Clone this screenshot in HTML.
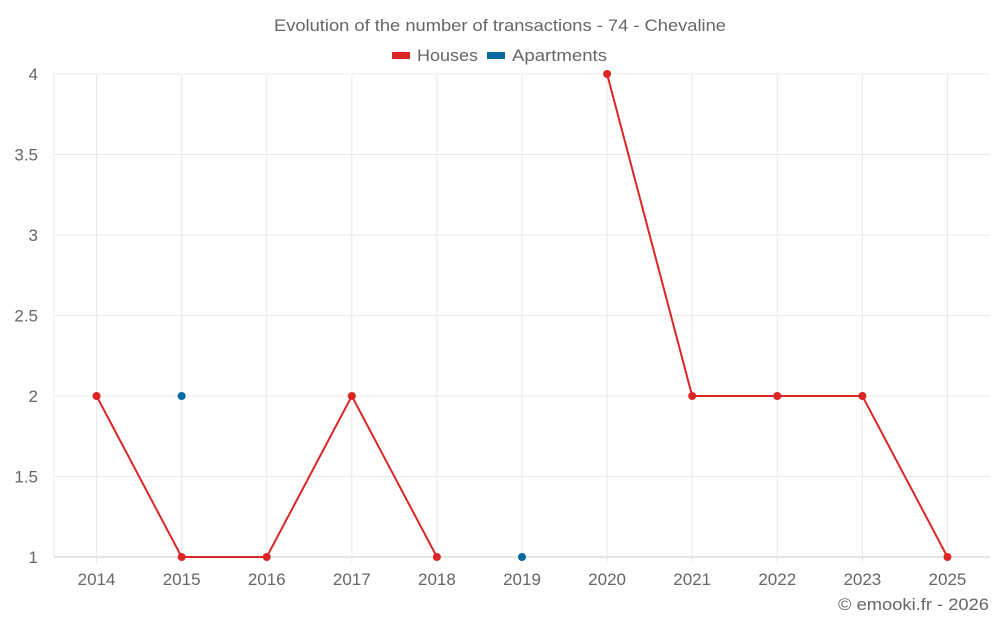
<!DOCTYPE html>
<html><head><meta charset="utf-8"><style>
body{margin:0;background:#fff;font-family:"Liberation Sans",sans-serif}
svg text{font-family:"Liberation Sans",sans-serif;fill:#666}
</style></head><body>
<svg id="c" width="1000" height="625">
<text x="274" y="31" font-size="17" textLength="452" lengthAdjust="spacingAndGlyphs">Evolution of the number of transactions - 74 - Chevaline</text>
<g>
<rect x="392" y="52" width="18" height="7" fill="#dc2626"/>
<text x="417" y="61" font-size="17" textLength="61" lengthAdjust="spacingAndGlyphs">Houses</text>
<rect x="487" y="52" width="18" height="7" fill="#0369a1"/>
<text x="512" y="61" font-size="17" textLength="95" lengthAdjust="spacingAndGlyphs">Apartments</text>
</g>
<g id="grid"></g><g id="marks"></g>
<text x="989" y="610" text-anchor="end" font-size="17" textLength="151" lengthAdjust="spacingAndGlyphs">© emooki.fr - 2026</text>
</svg>
<script>
const categories=["2014","2015","2016","2017","2018","2019","2020","2021","2022","2023","2025"];
const houses=[2,1,1,2,1,null,4,2,2,2,1];
const apartments=[null,2,null,null,null,1,null,null,null,null,null];
const yTicks=[1,1.5,2,2.5,3,3.5,4];
const NS="http://www.w3.org/2000/svg";
const L=54,R=990,T=74,B=557,yMin=1,yMax=4;
const bw=(R-L)/categories.length;
const x=i=>L+bw*(i+0.5);
const y=v=>B-(v-yMin)/(yMax-yMin)*(B-T);
function mk(tag,at,parent){const e=document.createElementNS(NS,tag);for(const k in at)e.setAttribute(k,at[k]);parent.appendChild(e);return e;}
const g=document.getElementById('grid'),m=document.getElementById('marks');
yTicks.forEach(t=>{
 const ln=mk('line',{x1:L,x2:R,y1:y(t),y2:y(t),stroke:t===yMin?'#ccc':'#e8e8e8'},g);
 
 
 const tx=mk('text',{x:38,y:y(t)+6,'text-anchor':'end','font-size':17},g);tx.textContent=String(t);
 
 
});
mk('line',{x1:L,x2:L,y1:T,y2:B,stroke:'#e8e8e8'},g);
categories.forEach((c,i)=>{
 const ln=mk('line',{x1:x(i),x2:x(i),y1:T,y2:B+6,stroke:'#e8e8e8'},g);
 
 
 const tx=mk('text',{x:x(i),y:585,'text-anchor':'middle','font-size':17},g);tx.textContent=c;
 
 
});
function series(vals,color,name){
 let d='',pen=false;
 vals.forEach((v,i)=>{if(v==null){pen=false;return;}d+=(pen?'L':'M')+x(i)+' '+y(v)+' ';pen=true;});
 if(d){const p=mk('path',{d:d,fill:'none',stroke:color,'stroke-width':2},m);
 
 }
 vals.forEach((v,i)=>{if(v==null)return;
  const c=mk('circle',{cx:x(i),cy:y(v),r:4,fill:color},m);
  
  
 });
}
series(houses,'#dc2626','houses');
series(apartments,'#0369a1','apartments');
</script>
</body></html>
